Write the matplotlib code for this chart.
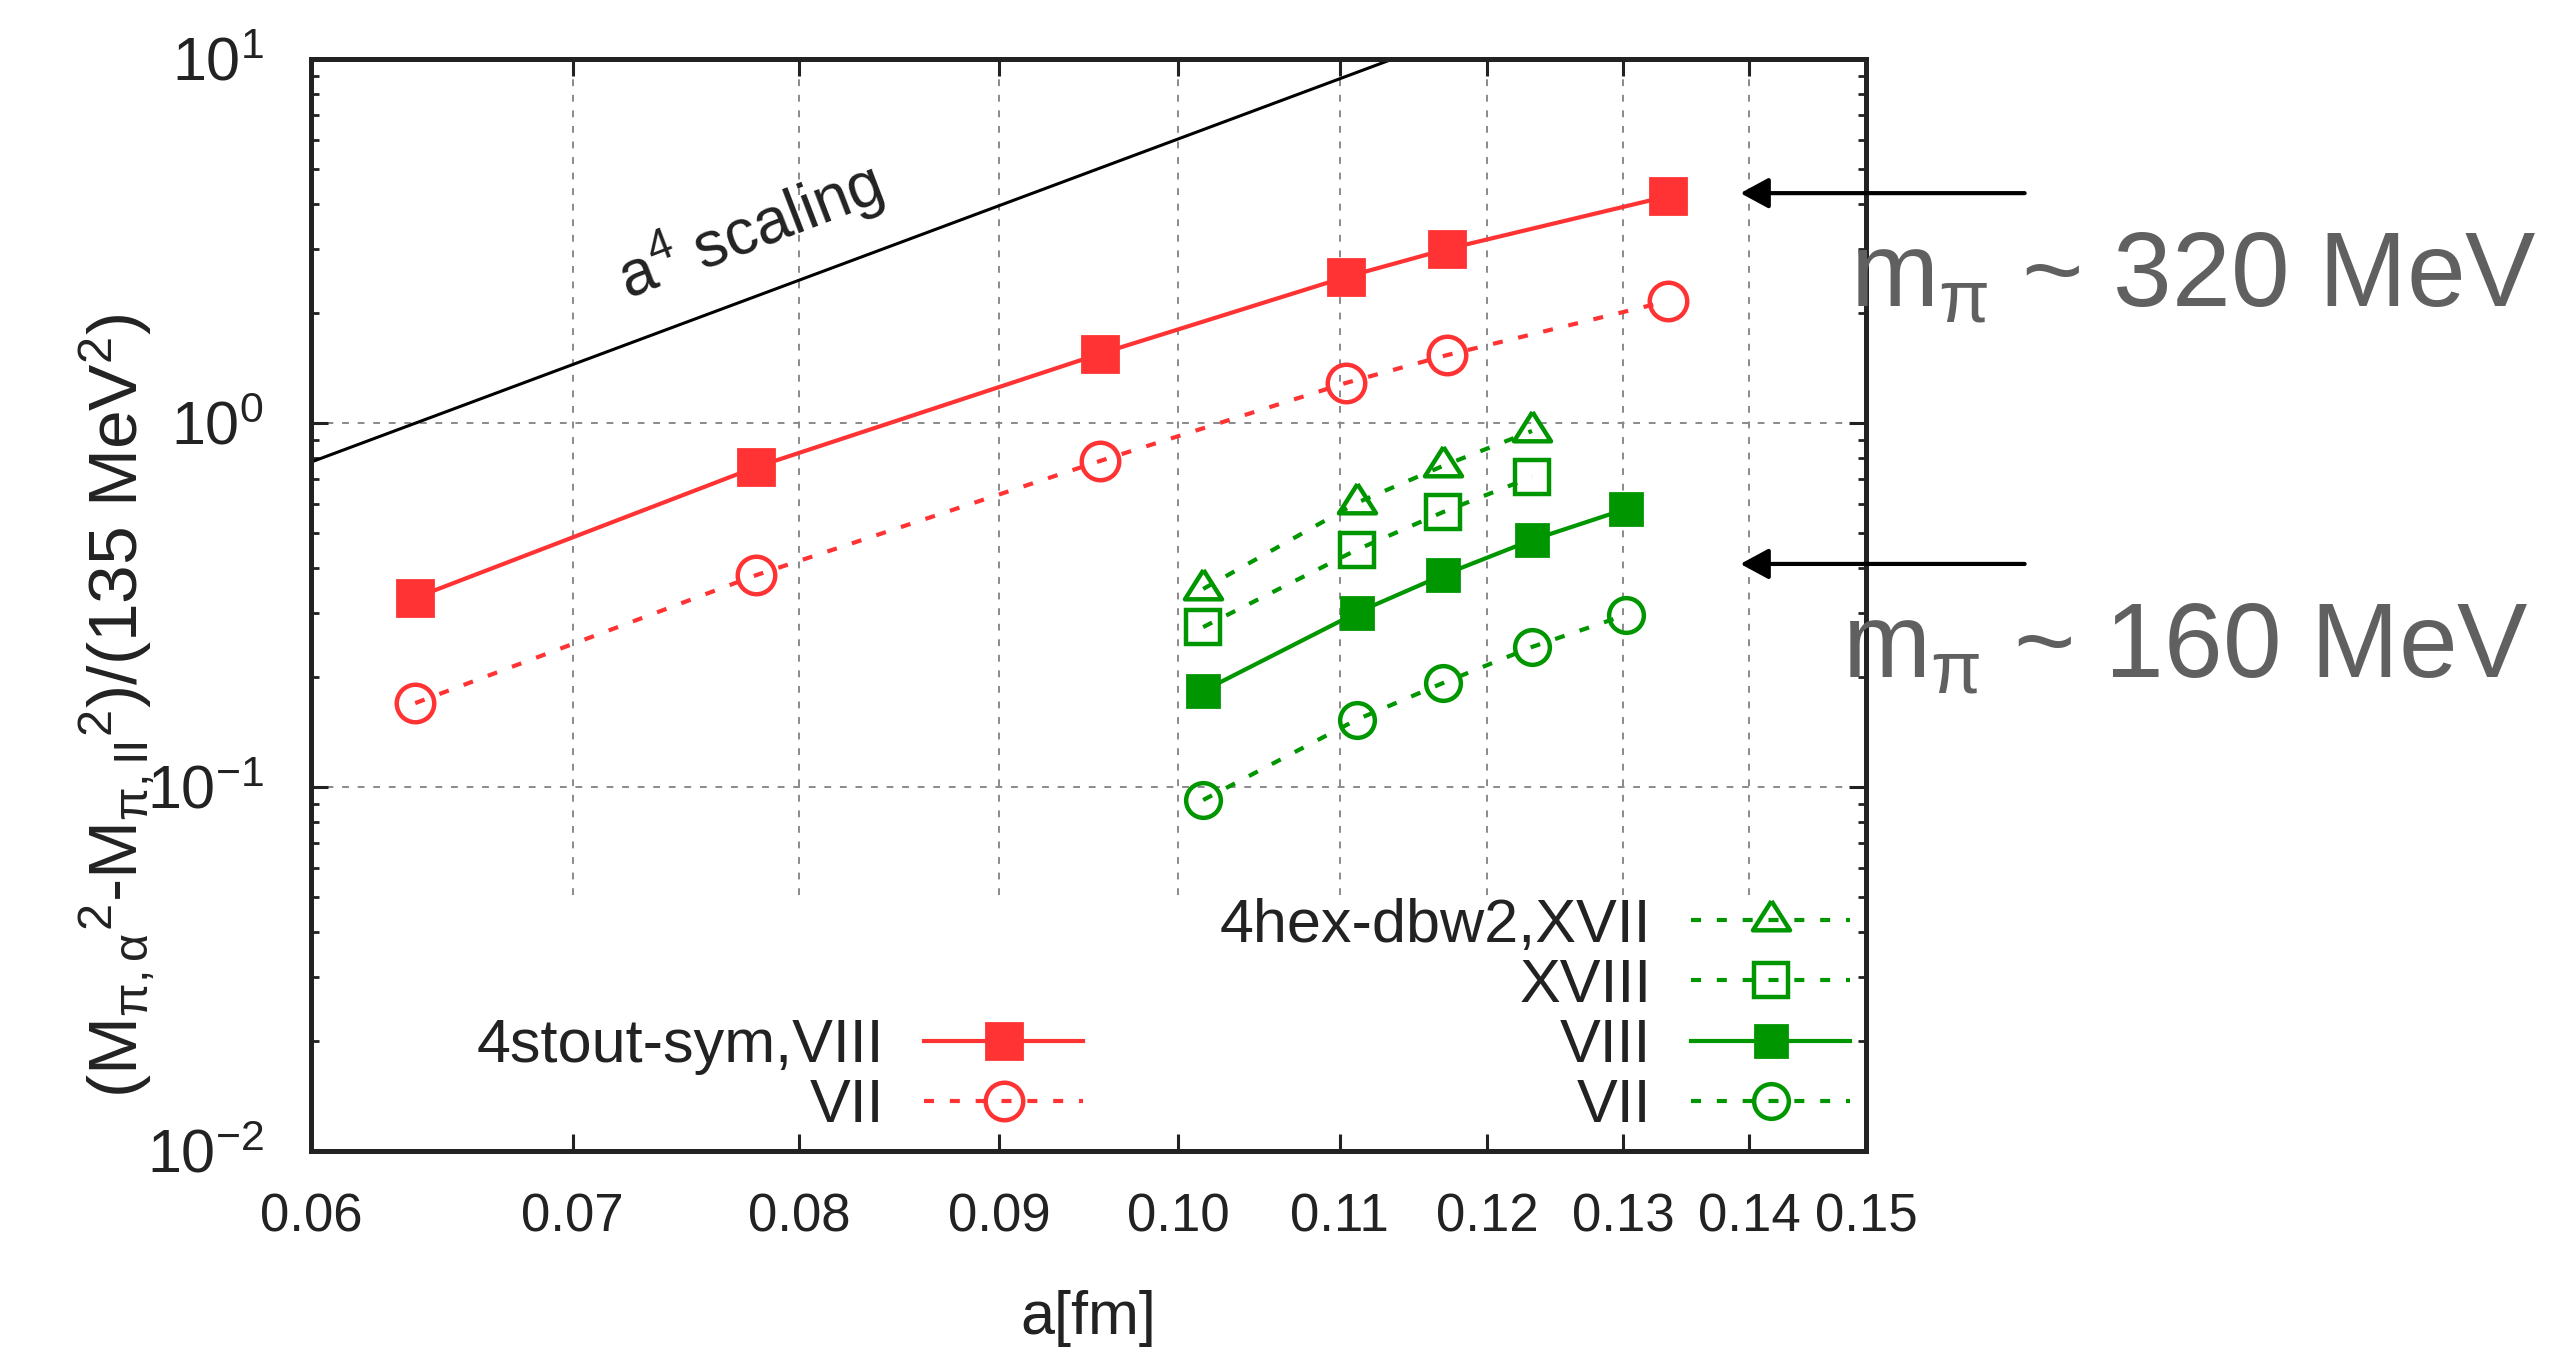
import numpy as np
import matplotlib
matplotlib.use('Agg')
import matplotlib.pyplot as plt
from matplotlib.ticker import FixedLocator, NullLocator

plt.rcParams['font.family'] = ['Liberation Sans', 'DejaVu Sans']
plt.rcParams['mathtext.fontset'] = 'custom'
plt.rcParams['mathtext.rm'] = 'Liberation Sans'
plt.rcParams['mathtext.it'] = 'Liberation Sans:italic'
plt.rcParams['mathtext.bf'] = 'Liberation Sans:bold'
plt.rcParams['mathtext.default'] = 'regular'

# lattice spacings [fm]
a_stout = [0.0638, 0.0780, 0.0955, 0.1104, 0.1172, 0.1335]
a_hex = [0.1015, 0.1111, 0.1169, 0.1232, 0.1302]

# (M_pi,alpha^2 - M_pi,II^2)/(135 MeV)^2
stout_VIII = [0.331, 0.757, 1.548, 2.518, 3.006, 4.20]
stout_VII = [0.170, 0.382, 0.786, 1.288, 1.537, 2.163]
hex_XVII = [0.350, 0.603, 0.762, 0.951]
hex_XVIII = [0.275, 0.448, 0.569, 0.711]
hex_VIII = [0.1836, 0.301, 0.382, 0.477, 0.580]
hex_VII = [0.0921, 0.153, 0.193, 0.2425, 0.297]

# a^4 guide line (end points)
a4_x = [0.06, 0.1135]
a4_y = [0.781, 10.0]

xticks = [0.06, 0.07, 0.08, 0.09, 0.10, 0.11, 0.12, 0.13, 0.14, 0.15]
xticklabels = ['0.06', '0.07', '0.08', '0.09', '0.10', '0.11', '0.12', '0.13', '0.14', '0.15']

# arrows pointing at the two pion mass groups
arrow_y = [4.28, 0.41]
arrow_tip = 0.1393
arrow_tail = 0.1647
mpi_labels = [r'm$_{\pi}$ ~ 320 MeV', r'm$_{\pi}$ ~ 160 MeV']

red = '#ff3333'
green = '#009600'
dash = (0, (2.4, 3.8))
tri = [(0, 1.05), (-1, -0.53), (1, -0.53), (0, 1.05)]

fig = plt.figure(figsize=(12.75, 6.76), dpi=200)
ax = fig.add_axes([0.12196, 0.14867, 0.6098, 0.8077])
ax.set_xscale('log')
ax.set_yscale('log')
ax.set_xlim(0.06, 0.15)
ax.set_ylim(0.01, 10)

# grid (hidden behind the key area at the bottom)
ax.vlines(xticks[1:-1], 0.0505, 10, colors='#8a8a8a', linestyles=[(0, (3.5, 4.5))], linewidth=0.7, zorder=0.5)
ax.hlines([0.1, 1.0], 0.06, 0.15, colors='#8a8a8a', linestyles=[(0, (3.5, 4.5))], linewidth=0.7, zorder=0.5)

ax.plot(a4_x, a4_y, color='black', lw=1.1)
ax.text(0.0723, 2.18, r'a$^{4}$ scaling', rotation=21, rotation_mode='anchor',
        ha='left', va='baseline', fontsize=23, color='#222222')

l1, = ax.plot(a_stout, stout_VIII, color=red, lw=1.5, marker='s', ms=12.8, label='4stout-sym,VIII')
l2, = ax.plot(a_stout, stout_VII, color=red, lw=1.5, ls=dash, marker='o', ms=13.5,
              mfc='none', mew=1.6, label='VII')
g1, = ax.plot(a_hex[:4], hex_XVII, color=green, lw=1.5, ls=dash, marker=tri, ms=14,
              mfc='none', mew=1.6, label='4hex-dbw2,XVII')
g2, = ax.plot(a_hex[:4], hex_XVIII, color=green, lw=1.5, ls=dash, marker='s', ms=12.5,
              mfc='none', mew=1.6, label='XVIII')
g3, = ax.plot(a_hex, hex_VIII, color=green, lw=1.5, marker='s', ms=11.6, label='VIII')
g4, = ax.plot(a_hex, hex_VII, color=green, lw=1.5, ls=dash, marker='o', ms=12.5,
              mfc='none', mew=1.6, label='VII')

leg_kw = dict(loc='lower right', frameon=False, markerfirst=False, fontsize=22,
              handlelength=2.6, handletextpad=0.65, labelspacing=0.05,
              borderpad=0, borderaxespad=0)
leg1 = ax.legend(handles=[l1, l2], bbox_to_anchor=(0.4965, 0.0147), **leg_kw)
ax.add_artist(leg1)
leg2 = ax.legend(handles=[g1, g2, g3, g4], bbox_to_anchor=(0.9897, 0.0147), **leg_kw)
for lg in (leg1, leg2):
    for t in lg.get_texts():
        t.set_color('#222222')

for yv in arrow_y:
    ax.annotate('', xy=(arrow_tip, yv), xytext=(arrow_tail, yv), annotation_clip=False,
                arrowprops=dict(arrowstyle='-|>,head_length=0.72,head_width=0.39',
                                mutation_scale=12, color='black', lw=1.5,
                                shrinkA=0, shrinkB=0, clip_on=False))

fig.text(0.9949, 0.7729, mpi_labels[0], fontsize=38, color='#606060', ha='right', va='baseline')
fig.text(0.9917, 0.4985, mpi_labels[1], fontsize=38, color='#606060', ha='right', va='baseline')

ax.xaxis.set_major_locator(FixedLocator(xticks))
ax.xaxis.set_minor_locator(NullLocator())
ax.set_xticklabels(xticklabels)
ax.tick_params(which='both', direction='in', top=True, right=True, colors='#222222')
ax.tick_params(axis='x', labelsize=19, pad=15)
ax.tick_params(axis='y', labelsize=22, pad=17)
ax.tick_params(which='major', length=6, width=1.1)
ax.tick_params(which='minor', length=2.9, width=1.0)
for s in ax.spines.values():
    s.set_linewidth(1.8)
    s.set_color('#222222')

ax.set_xlabel('a[fm]', fontsize=22, color='#222222')
ax.xaxis.set_label_coords(0.5, -0.1273)
fig.text(0.046, 0.4778, r'(M$_{\pi,\alpha}{}^{2}$-M$_{\pi,II}{}^{2}$)/(135 MeV$^{2}$)',
         rotation=90, ha='center', va='center', fontsize=25, color='#222222')

fig.savefig('out.png', dpi=200)
